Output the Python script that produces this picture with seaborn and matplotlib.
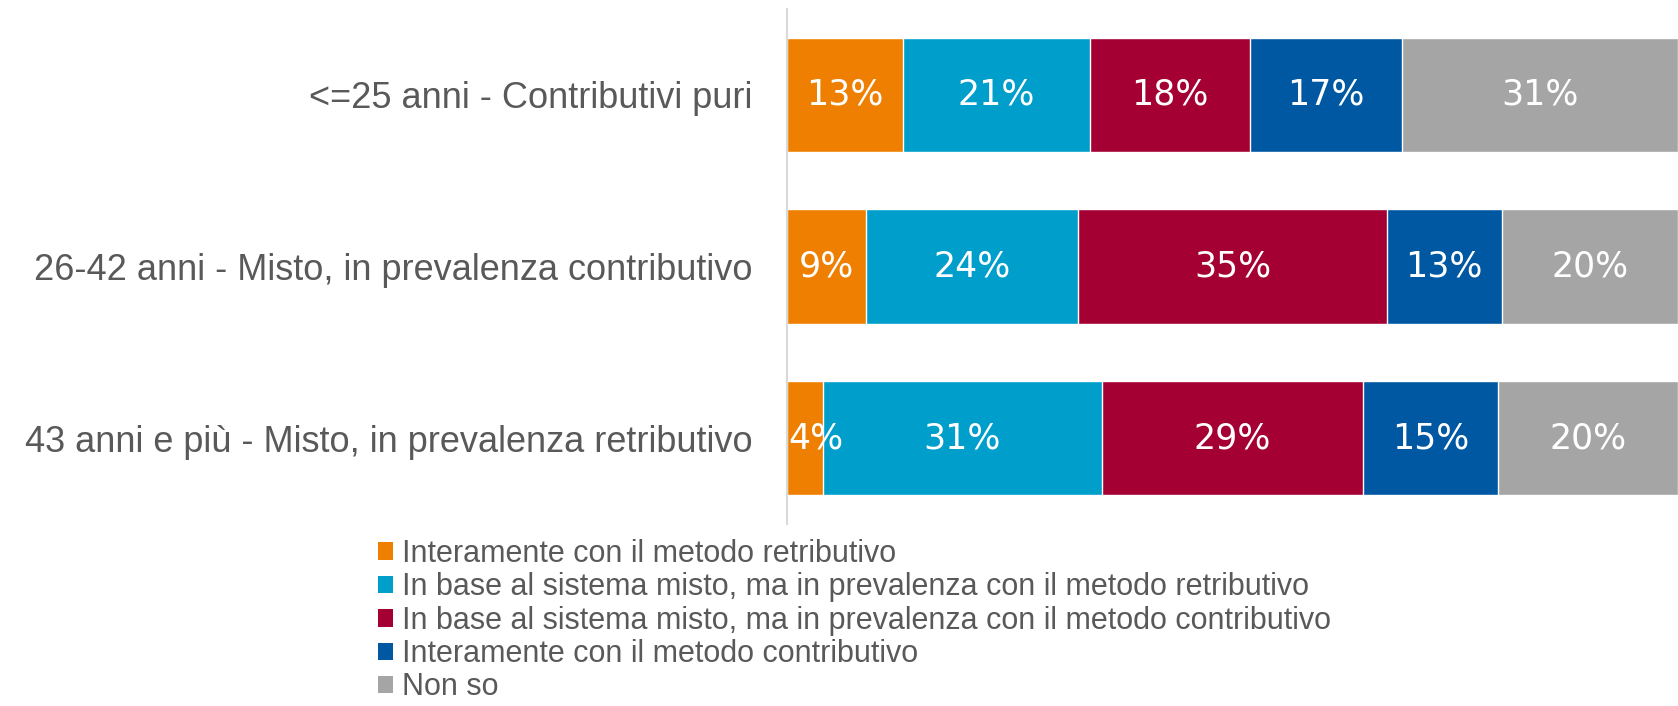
import numpy as np
import pandas as pd
import seaborn as sns
import matplotlib
matplotlib.use("Agg")
import matplotlib.pyplot as plt
from matplotlib.patches import Patch
from matplotlib import font_manager

categories = [
    "<=25 anni - Contributivi puri",
    "26-42 anni - Misto, in prevalenza contributivo",
    "43 anni e più - Misto, in prevalenza retributivo",
]
series_names = [
    "Interamente con il metodo retributivo",
    "In base al sistema misto, ma in prevalenza con il metodo retributivo",
    "In base al sistema misto, ma in prevalenza con il metodo contributivo",
    "Interamente con il metodo contributivo",
    "Non so",
]
retributivo = [13, 9, 4]
misto_retributivo = [21, 24, 31]
misto_contributivo = [18, 35, 29]
contributivo = [17, 13, 15]
non_so = [31, 20, 20]
colors = ["#EE7F00", "#009ECB", "#A50034", "#0058A2", "#A5A5A5"]

sns.set_theme(style="white")
available = {f.name for f in font_manager.fontManager.ttflist}
narrow = "Liberation Sans Narrow" if "Liberation Sans Narrow" in available else "Liberation Sans"
plt.rcParams["font.family"] = [narrow, "DejaVu Sans"]

text_color = "#595959"
series = [retributivo, misto_retributivo, misto_contributivo, contributivo, non_so]
vals = np.array(series, dtype=float)  # shape (5, 3)
shares = vals / vals.sum(axis=0) * 100
cum = np.cumsum(shares, axis=0)

fig = plt.figure(figsize=(16.78, 7.06), dpi=100)
ax = fig.add_axes([787 / 1678, 1 - 524 / 706, 1 - 787 / 1678, (524 - 9) / 706])

# draw cumulative layers from the largest to the smallest
for i in range(len(series) - 1, -1, -1):
    df = pd.DataFrame({"cat": categories, "val": cum[i]})
    sns.barplot(data=df, x="val", y="cat", orient="h", color=colors[i],
                saturation=1, width=0.667, ax=ax, errorbar=None)

for j in range(len(categories)):
    left = 0.0
    for i in range(len(series)):
        w = shares[i, j]
        label = f"{int(vals[i, j])}%"
        if w < 6:
            ax.text(left + 0.15, j, label, ha="left", va="center", color="white",
                    fontsize=25, family="DejaVu Sans")
        else:
            ax.text(left + w / 2, j, label, ha="center", va="center", color="white",
                    fontsize=25, family="DejaVu Sans")
        left += w

ax.set_xlim(0, 100)
ax.set_ylim(2.5, -0.5)
ax.set_xlabel("")
ax.set_ylabel("")
ax.set_xticks([])
for s in ["top", "right", "bottom"]:
    ax.spines[s].set_visible(False)
ax.spines["left"].set_color("#D9D9D9")
ax.spines["left"].set_linewidth(1.5)
ax.tick_params(axis="y", length=0, pad=25, labelsize=26, labelcolor=text_color)

handles = [Patch(facecolor=c, edgecolor="none") for c in colors]
leg = fig.legend(handles, series_names, loc="upper left",
                 bbox_to_anchor=(378 / 1678, 1 - 539 / 706), frameon=False,
                 fontsize=22, handlelength=0.5, handleheight=0.5,
                 handletextpad=0.3, labelspacing=0.11, borderpad=0, borderaxespad=0)
for t in leg.get_texts():
    t.set_color(text_color)

fig.savefig("out.png", dpi=100)
